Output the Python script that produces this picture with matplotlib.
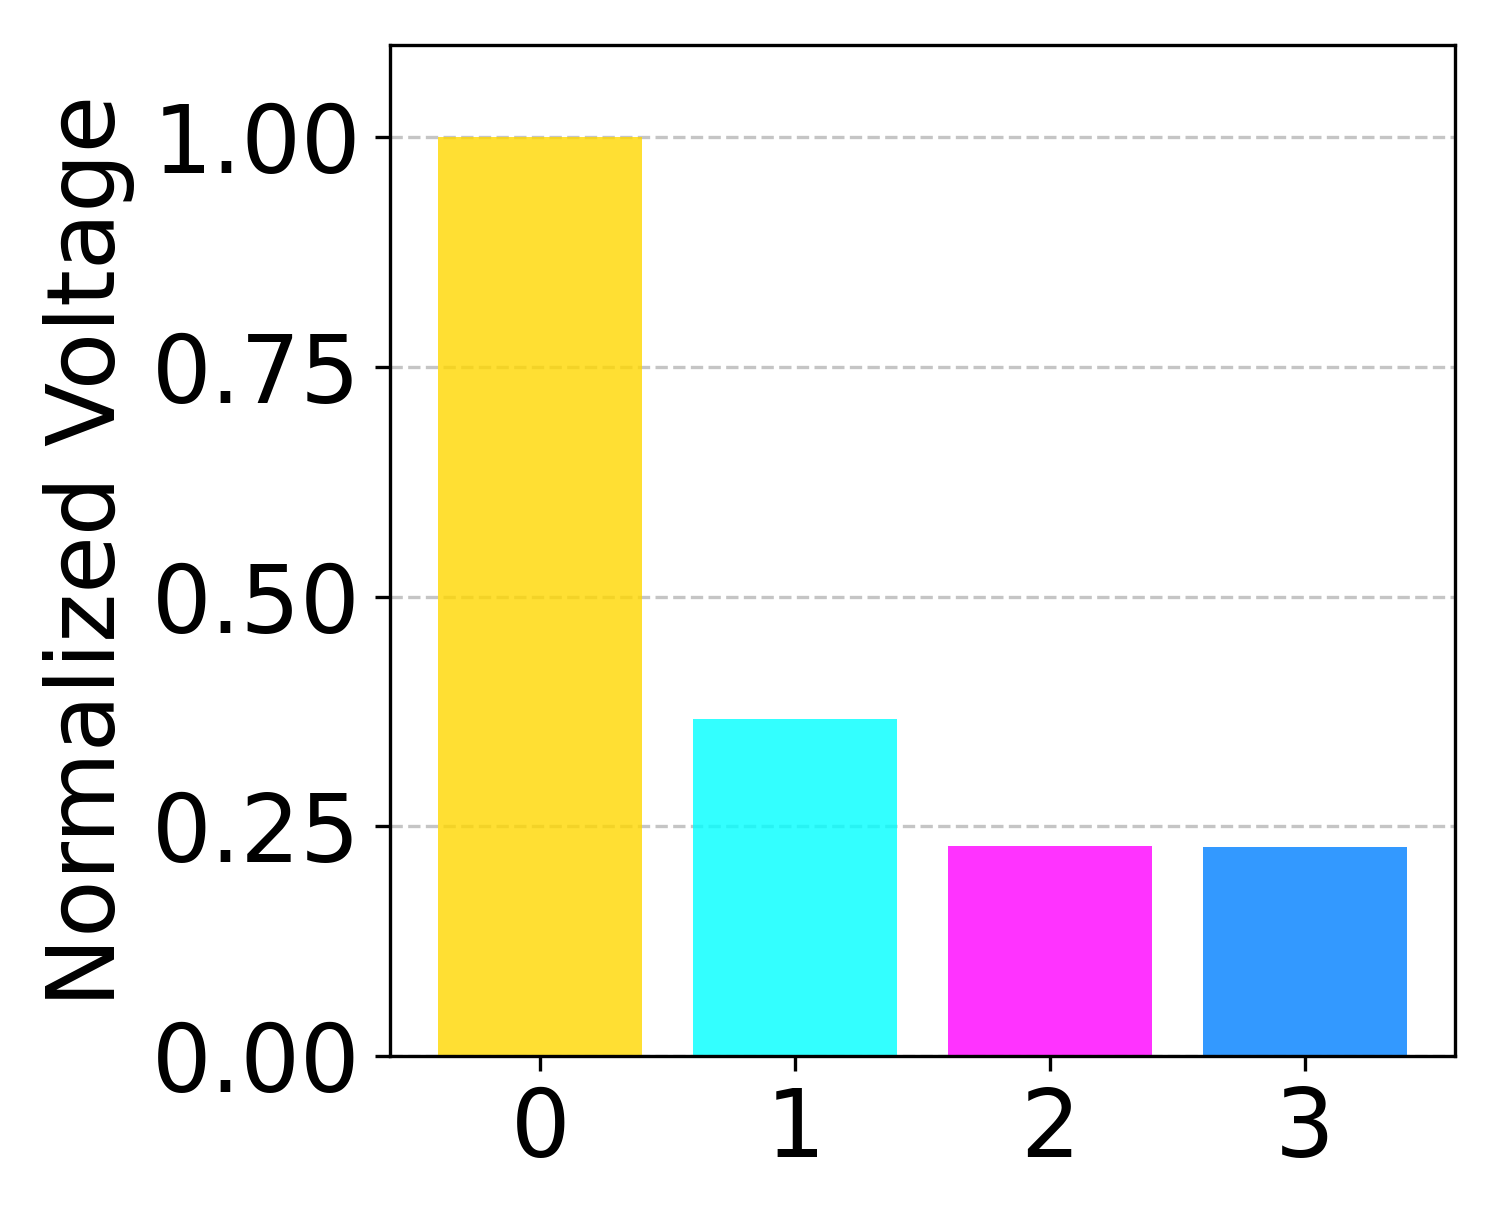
import matplotlib
matplotlib.use('Agg')
from matplotlib import pyplot as plt

# data
channels = [0, 1, 2, 3]
voltage = [1.0, 0.367, 0.229, 0.228]
colors = ['gold', 'cyan', 'magenta', '#0080ff']

fig = plt.figure(figsize=(5, 4.07), dpi=300)
ax = fig.add_axes([0.26, 0.135, 0.71, 0.828])

ax.bar(channels, voltage, width=0.8, color=colors, alpha=0.8, zorder=2)
ax.set_ylim(0, 1.1)
ax.set_yticks([0, 0.25, 0.5, 0.75, 1.0])
ax.set_xticks(channels)
ax.set_ylabel('Normalized Voltage', fontsize=22.5)
ax.tick_params(labelsize=22.5)
ax.grid(axis='y', linestyle='--', color='gray', alpha=0.45, zorder=0)

fig.savefig('out.png', dpi=300)
